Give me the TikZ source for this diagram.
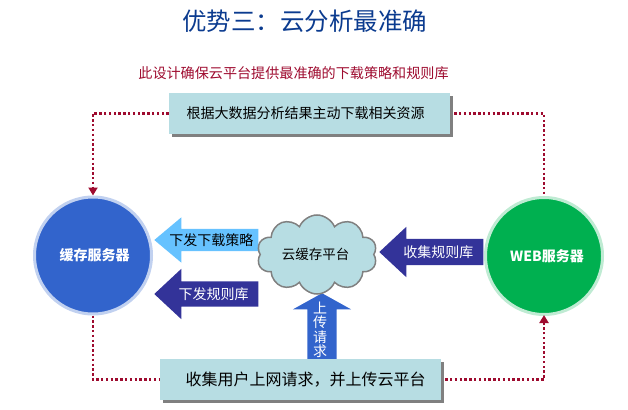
\documentclass[tikz,border=0pt]{standalone}
\usepackage{fontspec}
\setmainfont{Noto Sans CJK SC}
\usetikzlibrary{shadows,shapes.arrows,shapes.symbols,arrows.meta}
\definecolor{titleblue}{HTML}{0B3B8F}
\definecolor{darkred}{HTML}{9E0B2F}
\definecolor{boxblue}{HTML}{B7DDE3}
\definecolor{skyblue}{HTML}{66C2FF}
\definecolor{deepblue}{HTML}{333399}
\definecolor{midblue}{HTML}{3264CC}
\definecolor{webgreen}{HTML}{00B050}
\tikzstyle{server}=[circle,draw,line width=3pt,minimum size=117pt,inner sep=0pt,text=white,font=\fontsize{14}{14}\selectfont\bfseries]
\tikzstyle{infobox}=[rectangle,fill=boxblue,minimum width=281pt,minimum height=41pt,inner sep=0pt,drop shadow={shadow xshift=3pt,shadow yshift=-3pt,fill=gray,opacity=1}]
\tikzstyle{leftarrow}=[single arrow,shape border rotate=180,anchor=tip,inner sep=0pt,minimum height=104pt,font=\fontsize{14}{14}\selectfont]
\tikzstyle{dotline}=[draw=darkred,line width=2.4pt,dash pattern=on 2.4pt off 2.4pt]
\tikzstyle{dothead}=[-{Triangle[length=8pt,width=9pt]}]

\begin{document}
\begin{tikzpicture}[x=1pt,y=-1pt]
    \useasboundingbox (0,0) rectangle (628,409);

    \node[text=titleblue,font=\fontsize{24.5}{25}\selectfont] (title) at (304.5,21) {优势三：云分析最准确};
    \node[text=darkred,font=\fontsize{14.1}{14}\selectfont] (subtitle) at (293.5,73) {此设计确保云平台提供最准确的下载策略和规则库};

    % block arrows go below the cloud and the boxes
    \node[leftarrow,fill=skyblue,text height=16pt,text depth=6pt,minimum width=45pt,single arrow head extend=11.5pt,single arrow tip angle=80] (down) at (154,240) {\hspace*{-3pt}下发下载策略};
    \node[leftarrow,fill=deepblue,text=white,text height=17.5pt,text depth=7.5pt,minimum width=50pt,single arrow head extend=12.5pt,single arrow tip angle=86] (rules) at (154,294) {\hspace*{1pt}下发规则库};
    \node[leftarrow,fill=deepblue,text=white,text height=18pt,text depth=8pt,minimum width=50pt,single arrow head extend=12pt,single arrow tip angle=86] (collect) at (379,252) {收集规则库};
    \node[single arrow,shape border rotate=90,anchor=tip,fill=midblue,inner sep=0pt,text width=29pt,minimum height=66pt,minimum width=58pt,single arrow head extend=14.5pt,single arrow tip angle=122] (upload) at (322,293) {};
    \node[text=white,inner sep=0pt,align=center,font=\fontsize{14}{14.5}\selectfont] (uploadtext) at (320,330) {上\\传\\请\\求};

    \node[cloud,cloud puffs=10,cloud puff arc=135,aspect=1.5,draw=gray,line width=1.5pt,fill=boxblue,minimum width=120pt,minimum height=79pt,inner sep=0pt,font=\fontsize{13.5}{14}\selectfont] (cloud) at (317,254.5) {\hspace*{-3pt}云缓存平台};

    \node[server,draw=midblue!30!white,fill=midblue] (cache) at (93,255.5) {\raisebox{-4pt}{\hspace*{3pt}缓存服务器}};
    \node[server,draw=webgreen!25!white,fill=webgreen] (web) at (544,256) {\raisebox{-4pt}{\hspace*{6pt}WEB服务器}};

    \node[infobox,font=\fontsize{14}{14}\selectfont] (plan) at (309.5,113.5) {\hspace*{-8pt}根据大数据分析结果主动下载相关资源};
    \node[infobox,font=\fontsize{16}{16}\selectfont] (gather) at (300.5,379.5) {\hspace*{10pt}收集用户上网请求，并上传云平台};

    % Connect boxes with servers
    \path[dotline,dothead] (plan.west) -| (cache.north);
    \path[dotline] ([xshift=4pt]plan.east) -| (web.north);
    \path[dotline] (cache.south) |- (gather.west);
    \path[dotline,dothead] ([xshift=4pt]gather.east) -| ([yshift=1pt]web.south);
\end{tikzpicture}
\end{document}
